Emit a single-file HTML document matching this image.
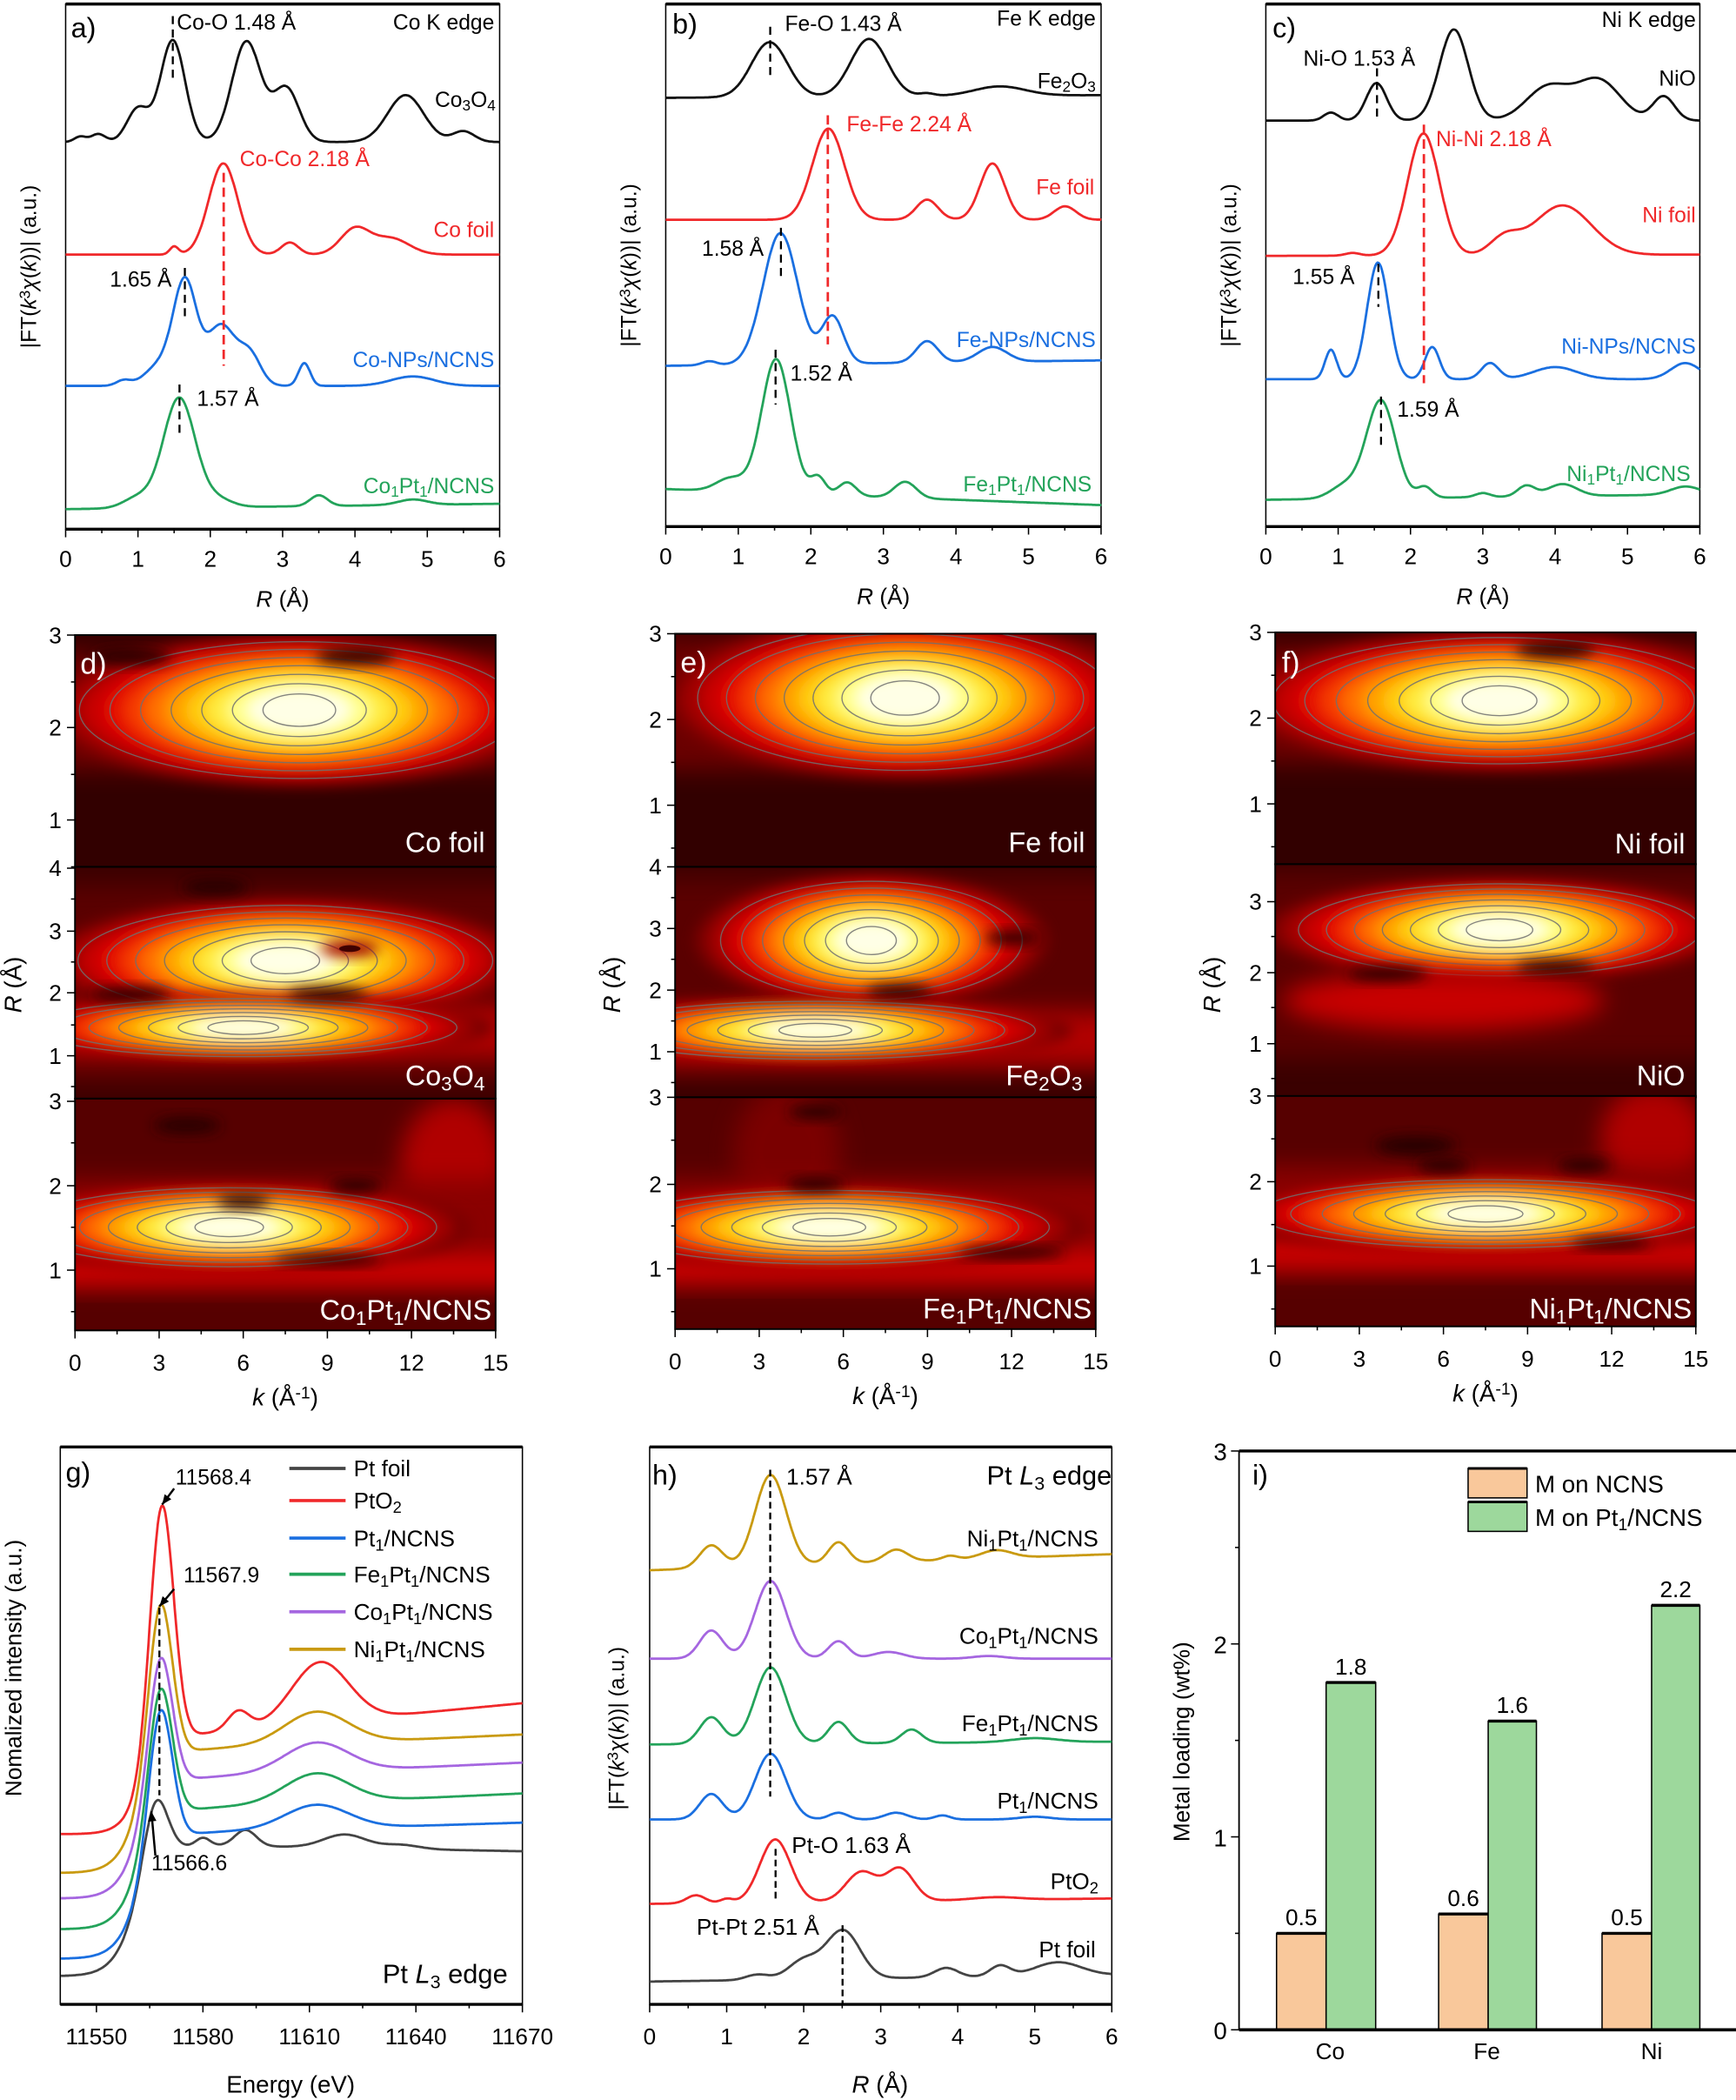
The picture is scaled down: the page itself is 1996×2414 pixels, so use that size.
<!DOCTYPE html>
<html><head><meta charset="utf-8"><style>
html,body{margin:0;padding:0;background:#fff}
svg{display:block}
text{font-family:"Liberation Sans",Arial,sans-serif}
</style></head><body>
<svg id="s" width="1996" height="2414" viewBox="0 0 1296 1567.4" xmlns="http://www.w3.org/2000/svg">
<defs>
<filter id="bl" x="-30%" y="-60%" width="160%" height="220%"><feGaussianBlur stdDeviation="5"/></filter>
<filter id="bl2" x="-30%" y="-60%" width="160%" height="220%"><feGaussianBlur stdDeviation="9"/></filter>
</defs>
<g id="root"></g>
</svg>
<script>
let o='';
function sb(s){return s.replace(/_(\w)/g,'<tspan font-size="70%" baseline-shift="-25%">$1</tspan>').replace(/\^(-?\w)/g,'<tspan font-size="70%" baseline-shift="40%">$1</tspan>');}
function T(x,y,s,a){a=a||{};o+=`<text x="${x}" y="${y}" font-size="${a.fs||16}" fill="${a.c||'#000'}" text-anchor="${a.an||'start'}" ${a.ff?'font-family="'+a.ff+'"':''} ${a.rot?'transform="rotate(-90 '+x+' '+y+')"':''} ${a.fw?'font-weight="'+a.fw+'"':''}>${sb(s)}</text>`;}
function L(x1,y1,x2,y2,c,w,da){o+=`<line x1="${x1}" y1="${y1}" x2="${x2}" y2="${y2}" stroke="${c||'#000'}" stroke-width="${w||1}" ${da?'stroke-dasharray="'+da+'"':''}/>`;}
function curve(px0,ppu,r0,r1,base,slope,pk,c){let d='';for(let i=0;i<=400;i++){const r=r0+(r1-r0)*i/400;let y=base+slope*(r-r0)/(r1-r0);for(const [m,h,w] of pk)y-=h*Math.exp(-((r-m)**2)/(2*w*w));d+=(i?'L':'M')+(px0+(r-r0)*ppu).toFixed(1)+','+y.toFixed(1);}o+=`<path d="${d}" fill="none" stroke="${c}" stroke-width="1.8"/>`;}
const BK='#111',RD='#f0282a',BL='#1a6fe0',GR='#23a35a',PU='#a566e0',GO='#c99a10',GY='#444';
function ftAxes(x0,x1,y0,y1){
 o+=`<rect x="${x0}" y="${y0}" width="${x1-x0}" height="${y1-y0}" fill="none" stroke="#000" stroke-width="1"/>`;
 L(x0,y0,x1,y0,'#000',2.2);L(x0,y1,x1,y1,'#000',2.2);
 const p=(x1-x0)/6;
 for(let i=0;i<=12;i++){const x=x0+i*p/2;L(x,y1,x,y1+(i%2?3:6));}
 for(let i=0;i<=6;i++)T(x0+i*p,y1+28,''+i,{fs:17,an:'middle'});
 T((x0+x1)/2,y1+58,'<tspan font-style="italic">R</tspan> (Å)',{fs:17,an:'middle'});
 T(x0-22,(y0+y1)/2,'|FT(<tspan font-style="italic">k</tspan>^3<tspan font-style="italic">χ</tspan>(<tspan font-style="italic">k</tspan>))| (a.u.)',{fs:16,an:'middle',rot:1,ff:'DejaVu Sans'});
}
ftAxes(49,373,3,395);ftAxes(497,822,3,393);ftAxes(945,1269,3,393);
let P=49,U=54;
curve(P,U,0,6,106,0,[[0.2,4,.08],[0.45,6,.1],[1.0,25,.15],[1.48,76,.17],[2.5,75,.2],[3.05,40,.18],[4.7,35,.25],[5.5,8,.15]],BK);
curve(P,U,0,6,190,0,[[1.5,6,.06],[2.18,68,.2],[3.1,9,.12],[4.0,19,.2],[4.5,12,.25]],RD);
curve(P,U,0,6,288,0,[[0.8,4,.1],[1.3,15,.2],[1.65,76,.16],[2.15,45,.2],[2.55,22,.15],[3.3,17,.08],[4.8,7,.3]],BL);
curve(P,U,0,6,380,-4,[[1.0,8,.2],[1.57,82,.22],[2.1,6,.2],[3.5,8,.12],[4.8,4,.2]],GR);
L(129,12,129,62,'#000',1.5,'6,4');L(167,129,167,273,RD,1.8,'7,4');L(138,200,138,238,'#000',1.5,'6,4');L(134,287,134,326,'#000',1.5,'6,4');
T(53,28,'a)',{fs:21});T(132,22,'Co-O 1.48 Å',{fs:16});T(369,22,'Co K edge',{fs:16,an:'end'});
T(370,80,'Co_3O_4',{fs:16,an:'end'});T(179,124,'Co-Co 2.18 Å',{fs:16,c:RD});T(369,177,'Co foil',{fs:16,an:'end',c:RD});
T(82,214,'1.65 Å',{fs:16});T(369,274,'Co-NPs/NCNS',{fs:16,an:'end',c:BL});T(147,303,'1.57 Å',{fs:16});T(369,368,'Co_1Pt_1/NCNS',{fs:16,an:'end',c:GR});
P=497;U=54.2;
curve(P,U,0,6,73,-2,[[1.43,41,.25],[2.8,43,.25],[3.6,2,.1],[4.6,7,.35]],BK);
curve(P,U,0,6,164,0,[[2.24,68,.22],[3.6,15,.15],[4.5,42,.17],[5.5,10,.15]],RD);
curve(P,U,0,6,273,-4,[[0.6,3,.1],[1.58,98,.24],[2.3,35,.15],[3.6,16,.15],[4.5,11,.2]],BL);
curve(P,U,0,6,365,12,[[0.9,10,.2],[1.52,100,.2],[2.1,13,.1],[2.5,10,.12],[3.3,12,.15]],GR);
L(575,20,575,59,'#000',1.5,'6,4');L(618,86,618,257,RD,1.8,'7,4');L(583,170,583,209,'#000',1.5,'6,4');L(579,261,579,302,'#000',1.5,'6,4');
T(502,25,'b)',{fs:21});T(586,23,'Fe-O 1.43 Å',{fs:16});T(818,19,'Fe K edge',{fs:16,an:'end'});
T(818,66,'Fe_2O_3',{fs:16,an:'end'});T(632,98,'Fe-Fe 2.24 Å',{fs:16,c:RD});T(817,145,'Fe foil',{fs:16,an:'end',c:RD});
T(524,191,'1.58 Å',{fs:16});T(818,259,'Fe-NPs/NCNS',{fs:16,an:'end',c:BL});T(590,284,'1.52 Å',{fs:16});T(815,367,'Fe_1Pt_1/NCNS',{fs:16,an:'end',c:GR});
P=945;U=54;
curve(P,U,0,6,90,0,[[0.9,6,.1],[1.53,28,.14],[2.6,68,.2],[3.9,25,.3],[4.6,30,.3],[5.5,18,.15]],BK);
curve(P,U,0,6,191,-1,[[1.2,2,.1],[2.18,91,.22],[3.3,12,.2],[4.1,37,.4]],RD);
curve(P,U,0,6,283,0,[[0.9,22,.08],[1.55,87,.15],[2.3,24,.1],[3.1,12,.12],[4.0,9,.3],[5.8,12,.2]],BL);
curve(P,U,0,6,373,-4,[[1.1,10,.2],[1.59,73,.2],[2.2,8,.1],[3.0,3,.1],[3.6,8,.12],[4.1,9,.2],[5.8,6,.2]],GR);
L(1028,51,1028,91,'#000',1.5,'6,4');L(1063,93,1063,286,RD,1.8,'7,4');L(1029,197,1029,229,'#000',1.5,'6,4');L(1031,296,1031,336,'#000',1.5,'6,4');
T(950,28,'c)',{fs:21});T(1266,20,'Ni K edge',{fs:16,an:'end'});T(973,49,'Ni-O 1.53 Å',{fs:16});T(1266,64,'NiO',{fs:16,an:'end'});
T(1072,109,'Ni-Ni 2.18 Å',{fs:16,c:RD});T(1266,166,'Ni foil',{fs:16,an:'end',c:RD});T(965,212,'1.55 Å',{fs:16});
T(1266,264,'Ni-NPs/NCNS',{fs:16,an:'end',c:BL});T(1043,311,'1.59 Å',{fs:16});T(1262,359,'Ni_1Pt_1/NCNS',{fs:16,an:'end',c:GR});
// heatmaps
let cid=0;
const cols=['#7a0000','#a00000','#c80000','#e41000','#f53a00','#ff7000','#ffa000','#ffcc10','#ffec40','#ffff90','#ffffe6'];
function blob(cx,cy,rx,ry,n,cont){n=n||11;
 o+=`<g filter="url(#bl)">`;
 for(let i=0;i<n;i++){const f=1-i/(n)*0.88;o+=`<ellipse cx="${cx}" cy="${cy}" rx="${rx*f*1.1}" ry="${ry*Math.pow(f,0.8)*1.1}" fill="${cols[i]}"/>`;}
 o+=`</g>`;
 if(cont!==false)for(let i=1;i<n;i+=1.6){const f=1-i/(n)*0.88;o+=`<ellipse cx="${cx}" cy="${cy}" rx="${rx*f*1.02}" ry="${ry*Math.pow(f,0.8)*1.05}" fill="none" stroke="#707070" stroke-width="0.9" opacity="0.85"/>`;}
}
function sub(x0,x1,y0,y1,fn,bg){cid++;o+=`<clipPath id="c${cid}"><rect x="${x0}" y="${y0}" width="${x1-x0}" height="${y1-y0}"/></clipPath><g clip-path="url(#c${cid})"><rect x="${x0}" y="${y0}" width="${x1-x0}" height="${y1-y0}" fill="${bg||'#320000'}"/>`;fn();o+=`</g><rect x="${x0}" y="${y0}" width="${x1-x0}" height="${y1-y0}" fill="none" stroke="#000" stroke-width="1.3"/>`;}
function glow(cx,cy,rx,ry,c){o+=`<ellipse cx="${cx}" cy="${cy}" rx="${rx}" ry="${ry}" fill="${c}" filter="url(#bl2)"/>`;}
function band(x0,x1,cy,h,c){o+=`<rect x="${x0-20}" y="${cy-h/2}" width="${x1-x0+40}" height="${h}" fill="${c}" filter="url(#bl2)"/>`;}
function yt(x0,ticks,minor){for(const [y,l] of ticks){L(x0,y,x0-6,y);if(l!=='')T(x0-10,y+6,l,{fs:17,an:'end'});}for(const y of minor)L(x0,y,x0-3,y);}
function hmX(x0,yb){const p=(314)/15;for(let k=0;k<=15;k+=1.5){L(x0+k*p,yb,x0+k*p,yb+(k%3?3:6));}for(let k=0;k<=15;k+=3)T(x0+k*p,yb+30,''+k,{fs:17,an:'middle'});T(x0+7.5*p,yb+56,'<tspan font-style="italic">k</tspan> (Å^-1)',{fs:18,an:'middle'});}
function hmY(x){T(x,735,'<tspan font-style="italic">R</tspan> (Å)',{fs:18,an:'middle',rot:1});}
function spot(x,y,rx,ry){o+=`<ellipse cx="${x}" cy="${y}" rx="${rx}" ry="${ry}" fill="#250000" filter="url(#bl)"/>`;}
// d
let X=56,W=370,kx=k=>X+k*314/15;
sub(X,W,474,647,()=>{band(X,W,530,90,'#6a0000');blob(kx(8),530,175,52);spot(kx(10),490,30,6);spot(kx(2),490,30,6);});
sub(X,W,647,820,()=>{band(X,W,735,150,'#5a0000');blob(kx(7.5),717,165,42);band(X,W,770,40,'#b00000');blob(kx(6),767,170,22);
 spot(kx(2),742,30,5);spot(kx(9),742,30,5);spot(kx(5),662,25,6);
 o+=`<ellipse cx="${kx(9.8)}" cy="${708}" rx="22" ry="6" fill="#a00000" filter="url(#bl)"/><ellipse cx="${kx(9.8)}" cy="708" rx="8" ry="2.5" fill="#400000"/>`;},'#3a0000');
sub(X,W,820,993,()=>{glow(kx(13.5),870,40,50,'#b00000');band(X,W,920,80,'#8a0000');band(X,W,948,22,'#d00000');blob(kx(5.5),916,165,30);
 spot(kx(6),897,20,5);spot(kx(10),885,20,5);spot(kx(9),940,40,4);spot(kx(4),840,25,6);},'#560000');
yt(X,[[474,'3'],[543,'2'],[612,'1']],[509,578,647]);yt(X,[[648,'4'],[695,'3'],[741,'2'],[788,'1']],[671,718,765,811]);yt(X,[[822,'3'],[885,'2'],[948,'1']],[853,916,979]);
hmX(X,993);hmY(16);
T(60,503,'d)',{fs:22,c:'#fff'});T(362,636,'Co foil',{fs:21,c:'#fff',an:'end'});T(362,810,'Co_3O_4',{fs:21,c:'#fff',an:'end'});T(367,985,'Co_1Pt_1/NCNS',{fs:21,c:'#fff',an:'end'});
// e
X=504;W=818;
sub(X,W,473,647,()=>{band(X,W,525,100,'#6a0000');blob(kx(8.2),521,165,55);});
sub(X,W,647,819,()=>{band(X,W,730,150,'#5a0000');blob(kx(7),702,120,45);band(X,W,775,40,'#b00000');blob(kx(5),769,175,22);spot(kx(12),700,20,5);spot(kx(8),740,25,5);},'#3a0000');
sub(X,W,819,992,()=>{glow(kx(4),860,40,50,'#7a0000');band(X,W,920,80,'#8a0000');band(X,W,945,22,'#d00000');blob(kx(5.5),916,175,28);spot(kx(5),884,22,5);spot(kx(12),935,40,4);spot(kx(5),830,20,5);},'#560000');
yt(X,[[473,'3'],[537,'2'],[601,'1']],[505,569,633]);yt(X,[[647,'4'],[693,'3'],[739,'2'],[785,'1']],[670,716,762,808]);yt(X,[[819,'3'],[884,'2'],[947,'1']],[851,915,979]);
hmX(X,992);hmY(463);
T(508,502,'e)',{fs:22,c:'#fff'});T(810,636,'Fe foil',{fs:21,c:'#fff',an:'end'});T(808,810,'Fe_2O_3',{fs:21,c:'#fff',an:'end'});T(815,984,'Fe_1Pt_1/NCNS',{fs:21,c:'#fff',an:'end'});
// f
X=952;W=1266;
sub(X,W,472,645,()=>{band(X,W,525,90,'#6a0000');blob(kx(8),523,180,48);spot(kx(10),485,30,6);});
sub(X,W,645,819,()=>{band(X,W,720,140,'#5a0000');blob(kx(8),694,160,35);glow(kx(6),747,120,22,'#c80000');spot(kx(4),727,30,5);spot(kx(10),722,30,5);},'#3a0000');
sub(X,W,818,990,()=>{glow(kx(13.5),850,40,40,'#b00000');band(X,W,910,80,'#8a0000');band(X,W,935,22,'#d00000');blob(kx(7.5),906,180,26);spot(kx(5),855,30,7);spot(kx(6),870,20,5);spot(kx(11),870,20,5);spot(kx(12),928,30,4);},'#560000');
yt(X,[[472,'3'],[536,'2'],[600,'1']],[504,568,632]);yt(X,[[673,'3'],[726,'2'],[779,'1']],[699,752,805]);yt(X,[[818,'3'],[882,'2'],[945,'1']],[850,914,977]);
hmX(X,990);hmY(911);
T(957,502,'f)',{fs:22,c:'#fff'});T(1258,637,'Ni foil',{fs:21,c:'#fff',an:'end'});T(1258,810,'NiO',{fs:21,c:'#fff',an:'end'});T(1263,984,'Ni_1Pt_1/NCNS',{fs:21,c:'#fff',an:'end'});
// g
const ex=E=>72+(E-11550)*2.65;
o+=`<rect x="45" y="1080" width="345" height="416" fill="none" stroke="#000" stroke-width="1"/>`;L(45,1080,390,1080,'#000',2.2);L(45,1496,390,1496,'#000',2.2);
for(let E=11550;E<=11670;E+=15){L(ex(E),1496,ex(E),1496+((E-11550)%30?3:6));}
for(let E=11550;E<=11670;E+=30)T(ex(E),1526,''+E,{fs:17,an:'middle'});
T(217,1562,'Energy (eV)',{fs:18,an:'middle'});
T(16,1245,'Nomalized intensity (a.u.)',{fs:17,an:'middle',rot:1,ff:'DejaVu Sans'});
function xan(yS,yB,E0,w,Ep,yP,pk,k,c){const sig=E=>1/(1+Math.exp(-(E-E0)/w));let A=yS+(yB-yS)*sig(Ep)-yP;let d='';
 for(let i=0;i<=500;i++){const E=11540+130*i/500;let y=yS+(yB-yS)*sig(E)+k*Math.max(0,E-11575)-A*Math.exp(-((E-Ep)**2)/(2*3.3*3.3));for(const [m,h,ww] of pk)y-=h*Math.exp(-((E-m)**2)/(2*ww*ww));d+=(i?'L':'M')+ex(E).toFixed(1)+','+y.toFixed(1);}
 o+=`<path d="${d}" fill="none" stroke="${c}" stroke-width="1.8"/>`;}
xan(1475,1377,11561,3.5,11566.6,1345,[[11580,6,2],[11592,12,3],[11620,10,6],[11636,3,5]],0.05,GY);
xan(1462,1368,11562,3.5,11568,1277,[[11612,18,9]],-0.08,BL);
xan(1440,1350,11562,3.5,11568,1261,[[11612,22,9]],-0.12,GR);
xan(1417,1327,11562,3.5,11568,1238,[[11612,22,9]],-0.12,PU);
xan(1398,1306,11562,3.5,11568,1198,[[11612,24,9]],-0.12,GO);
xan(1369,1295,11563,3.2,11568.4,1124,[[11590,14,3],[11613,45,8]],-0.25,RD);
L(119,1200,119,1340,'#000',1.5,'5,3');
function arr(x1,y1,x2,y2){L(x1,y1,x2,y2,'#000',1.6);const a=Math.atan2(y2-y1,x2-x1),s=8;o+=`<polygon points="${x2},${y2} ${x2-s*Math.cos(a-0.4)},${y2-s*Math.sin(a-0.4)} ${x2-s*Math.cos(a+0.4)},${y2-s*Math.sin(a+0.4)}" fill="#000"/>`;}
arr(130,1111,121,1123);arr(130,1186,119,1199);arr(116,1385,113,1352);
T(131,1108,'11568.4',{fs:16});T(137,1181,'11567.9',{fs:16});T(113,1396,'11566.6',{fs:16});
T(49,1106,'g)',{fs:21});T(379,1480,'Pt <tspan font-style="italic">L</tspan>_3 edge',{fs:20,an:'end'});
[['Pt foil',GY],['PtO_2',RD],['Pt_1/NCNS',BL],['Fe_1Pt_1/NCNS',GR],['Co_1Pt_1/NCNS',PU],['Ni_1Pt_1/NCNS',GO]].forEach((e,i)=>{const y=[1096,1120,1148,1175,1203,1231][i];L(216,y,258,y,e[1],2.4);T(264,y+6,e[0],{fs:17});});
// h
o+=`<rect x="485" y="1080" width="345" height="416" fill="none" stroke="#000" stroke-width="1"/>`;L(485,1080,830,1080,'#000',2.2);L(485,1496,830,1496,'#000',2.2);
P=485;U=57.5;
for(let i=0;i<=12;i++){const x=P+i*U/2;L(x,1496,x,1496+(i%2?3:6));}
for(let i=0;i<=6;i++)T(P+i*U,1526,''+i,{fs:17,an:'middle'});
T(657,1562,'<tspan font-style="italic">R</tspan> (Å)',{fs:18,an:'middle'});
T(466,1290,'|FT(<tspan font-style="italic">k</tspan>^3<tspan font-style="italic">χ</tspan>(<tspan font-style="italic">k</tspan>))| (a.u.)',{fs:16,an:'middle',rot:1,ff:'DejaVu Sans'});
curve(P,U,0,6,1172,-12,[[0.8,17,.15],[1.57,68,.2],[2.45,16,.13],[3.2,9,.15],[3.9,3,.1],[4.5,6,.2]],GO);
curve(P,U,0,6,1238,0,[[0.8,21,.15],[1.57,58,.2],[2.45,13,.13],[3.1,5,.2],[4.4,2,.2]],PU);
curve(P,U,0,6,1302,-2,[[0.8,20,.15],[1.57,57,.2],[2.45,16,.13],[3.4,10,.13],[5.0,3,.3]],GR);
curve(P,U,0,6,1358,0,[[0.8,19,.15],[1.57,49,.2],[2.45,5,.12],[3.2,5,.15],[3.8,3,.1],[5.0,2,.2]],BL);
curve(P,U,0,6,1421,-4,[[0.6,6,.12],[1.0,3,.08],[1.63,47,.2],[2.75,22,.2],[3.25,24,.18],[4.5,2,.3]],RD);
curve(P,U,0,6,1479,-5,[[1.4,4,.15],[2.0,14,.2],[2.51,36,.22],[3.85,7,.15],[4.55,8,.13],[5.3,10,.3]],GY);
L(575,1097,575,1341,'#000',1.5,'5,3');L(579,1380,579,1420,'#000',1.5,'5,3');L(629,1437,629,1495,'#000',1.5,'5,3');
T(487,1108,'h)',{fs:21});T(587,1108,'1.57 Å',{fs:17});T(830,1108,'Pt <tspan font-style="italic">L</tspan>_3 edge',{fs:20,an:'end'});
T(820,1154,'Ni_1Pt_1/NCNS',{fs:17,an:'end'});T(820,1227,'Co_1Pt_1/NCNS',{fs:17,an:'end'});T(820,1292,'Fe_1Pt_1/NCNS',{fs:17,an:'end'});T(820,1350,'Pt_1/NCNS',{fs:17,an:'end'});
T(591,1383,'Pt-O 1.63 Å',{fs:17});T(820,1410,'PtO_2',{fs:17,an:'end'});T(520,1444,'Pt-Pt 2.51 Å',{fs:17});T(818,1461,'Pt foil',{fs:17,an:'end'});
// i
const iy=v=>1515-v*144;
L(925,1083,1296,1083,'#000',2.2);L(925,1083,925,1515,'#000',1.2);
for(let v=0;v<=3;v+=0.5){L(925,iy(v),925-(v%1?3:6),iy(v));}
for(let v=0;v<=3;v++)T(916,iy(v)+7,''+v,{fs:18,an:'end'});
function bar(x0,x1,v,c){o+=`<rect x="${x0}" y="${iy(v)}" width="${x1-x0}" height="${1515-iy(v)}" fill="${c}" stroke="#000" stroke-width="1"/>`;L(x0,iy(v),x1,iy(v),'#000',2.2);T((x0+x1)/2,iy(v)-6,v.toFixed(1),{fs:17,an:'middle'});}
const OR='#f9c89b',GN='#9dd89c';
bar(953,990,0.5,OR);bar(990,1027,1.8,GN);bar(1074,1111,0.6,OR);bar(1111,1147,1.6,GN);bar(1196,1233,0.5,OR);bar(1233,1269,2.2,GN);
L(925,1515,1296,1515,'#000',2.4);
T(993,1537,'Co',{fs:17,an:'middle'});T(1110,1537,'Fe',{fs:17,an:'middle'});T(1233,1537,'Ni',{fs:17,an:'middle'});
T(888,1300,'Metal loading (wt%)',{fs:17,an:'middle',rot:1,ff:'DejaVu Sans'});
T(935,1108,'i)',{fs:21});
o+=`<rect x="1096" y="1096" width="44" height="22" fill="${OR}" stroke="#000"/><rect x="1096" y="1121" width="44" height="22" fill="${GN}" stroke="#000"/>`;
L(1096,1096,1140,1096,'#000',2);L(1096,1121,1140,1121,'#000',2);
T(1146,1114,'M on NCNS',{fs:18});T(1146,1139,'M on Pt_1/NCNS',{fs:18});
document.getElementById('root').innerHTML=o;
</script>
</body></html>
